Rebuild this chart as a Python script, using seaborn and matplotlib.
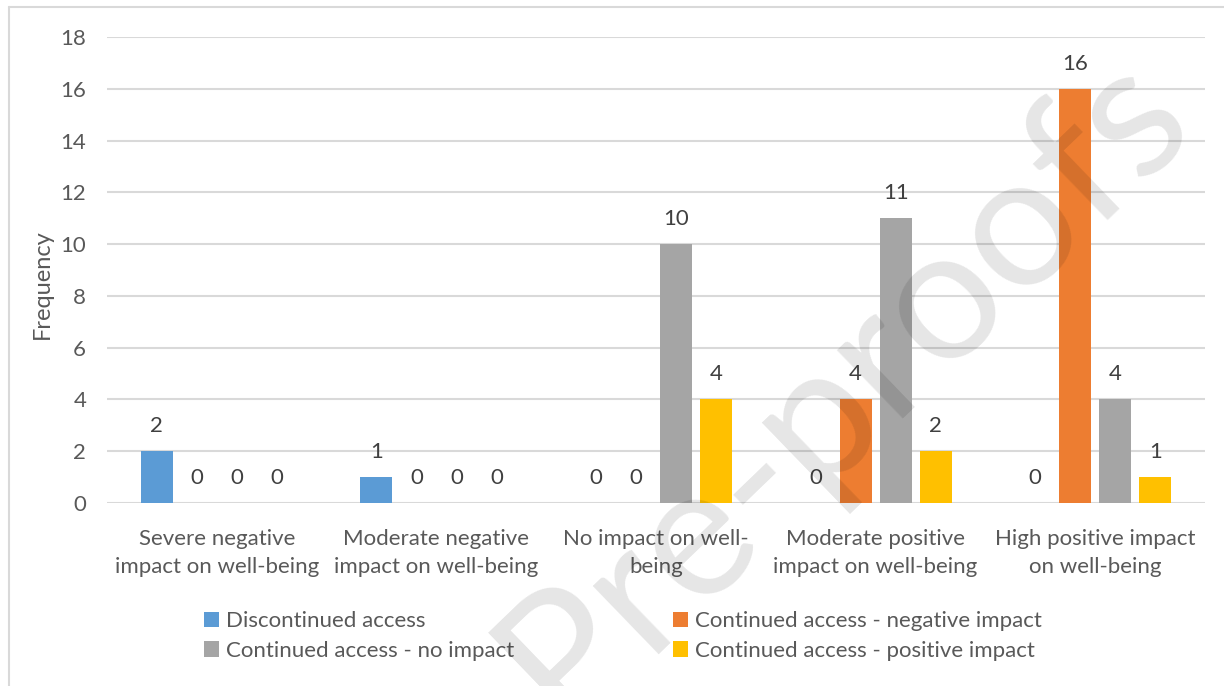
import matplotlib
matplotlib.use("Agg")
import matplotlib.pyplot as plt
from matplotlib.lines import Line2D
from matplotlib.patches import Patch
import seaborn as sns
import pandas as pd

# Survey responses: self-reported impact on well-being by access group
categories = [
    "Severe negative\nimpact on well-being",
    "Moderate negative\nimpact on well-being",
    "No impact on well-\nbeing",
    "Moderate positive\nimpact on well-being",
    "High positive impact\non well-being",
]
series_names = [
    "Discontinued access",
    "Continued access - negative impact",
    "Continued access - no impact",
    "Continued access - positive impact",
]
discontinued = [2, 1, 0, 0, 0]
continued_negative = [0, 0, 0, 4, 16]
continued_no_impact = [0, 0, 10, 11, 4]
continued_positive = [0, 0, 4, 2, 1]
y_ticks = [0, 2, 4, 6, 8, 10, 12, 14, 16, 18]

colors = ["#5B9BD5", "#ED7D31", "#A5A5A5", "#FFC000"]

rows = []
for name, vals in zip(series_names,
                      [discontinued, continued_negative, continued_no_impact, continued_positive]):
    for cat, v in zip(categories, vals):
        rows.append({"category": cat, "series": name, "value": v})
df = pd.DataFrame(rows)

sns.set_theme(style="white")
plt.rcParams["font.family"] = ["Lato", "DejaVu Sans"]

FS = 16
text_col = "#595959"

W, H = 1224, 686
fig = plt.figure(figsize=(W / 100, H / 100), dpi=100)
ax = fig.add_axes([107 / W, 1 - 503 / H, (1205 - 107) / W, (503 - 37) / H])

sns.barplot(data=df, x="category", y="value", hue="series",
            order=categories, hue_order=series_names,
            palette=colors, width=0.73, gap=0.2, saturation=1,
            linewidth=0, edgecolor="none",
            legend=False, ax=ax, zorder=3)

for cont in ax.containers:
    ax.bar_label(cont, fmt="%d", padding=11, fontsize=FS, color="#404040")

ax.set_ylim(0, 18)
ax.set_yticks(y_ticks)
ax.set_xlim(-0.5, len(categories) - 0.5)
ax.yaxis.grid(True, color="#D9D9D9", linewidth=1.5, zorder=0)
ax.set_axisbelow(True)
for s in ax.spines.values():
    s.set_visible(False)
ax.tick_params(axis="both", length=0, labelsize=FS, labelcolor=text_col)
ax.tick_params(axis="y", pad=15)
ax.tick_params(axis="x", pad=19)
for lbl in ax.get_xticklabels():
    lbl.set_linespacing(1.5)
ax.set_xlabel("")
ax.set_ylabel("")
fig.text(42 / W, 1 - 284 / H, "Frequency", rotation=90, ha="center", va="center",
         fontsize=FS + 1, color=text_col)

# Legend: two columns, each anchored at its own left edge
leg_kw = dict(loc="center left", frameon=False, fontsize=FS, labelcolor=text_col,
              handlelength=0.68, handleheight=0.68, handletextpad=0.3,
              labelspacing=0.42, borderpad=0, borderaxespad=0)
col1 = [0, 2]
col2 = [1, 3]
fig.legend([Patch(facecolor=colors[i], edgecolor="none") for i in col1],
           [series_names[i] for i in col1],
           bbox_to_anchor=(204 / W, 1 - 636 / H), **leg_kw)
fig.legend([Patch(facecolor=colors[i], edgecolor="none") for i in col2],
           [series_names[i] for i in col2],
           bbox_to_anchor=(673 / W, 1 - 636 / H), **leg_kw)

# Chart frame
frame_col = "#D9D9D9"
fig.add_artist(Line2D([9 / W, 9 / W], [0, 1 - 7 / H], color=frame_col, lw=1.5))
fig.add_artist(Line2D([9 / W, 1], [1 - 7 / H, 1 - 7 / H], color=frame_col, lw=1.5))

# Watermark, sized so the word spans about 876 px along its baseline
mark = "Pre-proofs"
renderer = fig.canvas.get_renderer()
probe = fig.text(0, 0, mark, fontsize=100)
probe_w = probe.get_window_extent(renderer).width
probe.remove()
mark_fs = 100 * 876 / probe_w
fig.text(880 / W, 1 - 425 / H, mark, rotation=44, rotation_mode="anchor",
         ha="center", va="baseline", fontsize=mark_fs, color="black", alpha=0.1,
         zorder=10)

fig.savefig("out.png", dpi=100)
